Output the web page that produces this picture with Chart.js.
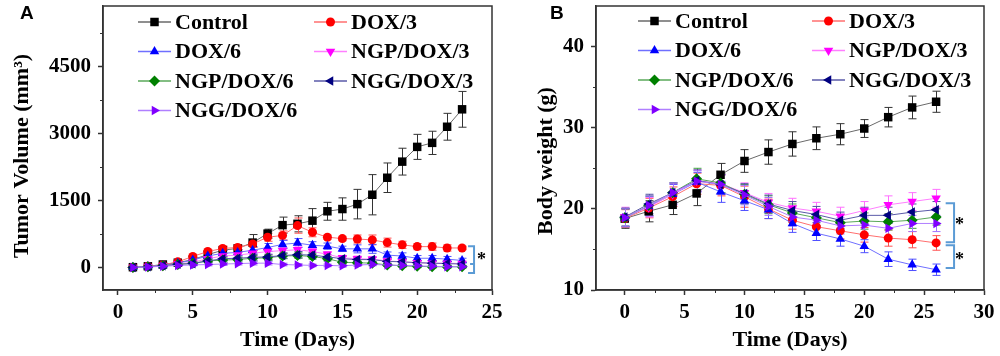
<!DOCTYPE html>
<html>
<head>
<meta charset="utf-8">
<script src="https://cdn.jsdelivr.net/npm/chart.js@4.4.0/dist/chart.umd.min.js"></script>
<style>
  html, body { margin: 0; padding: 0; background: #fff; }
  #wrap { position: relative; width: 1000px; height: 356px; overflow: hidden; }
  #cA { position: absolute; left: 0; top: 0; }
  #cB { position: absolute; left: 500px; top: 0; }
</style>
</head>
<body>
<div id="wrap">
  <canvas id="cA" width="520" height="356"></canvas>
  <canvas id="cB" width="500" height="356"></canvas>
</div>
<script>
const SERIF = '"Liberation Serif", "Times New Roman", serif';

const seriesNames = ['Control', 'DOX/3', 'DOX/6', 'NGP/DOX/3', 'NGP/DOX/6', 'NGG/DOX/3', 'NGG/DOX/6'];
const seriesColors = ['#000000', '#ff0000', '#0000ff', '#ff00ff', '#008000', '#000080', '#8000ff'];
const lineColors = ['#6a6a6a', '#ff6f6f', '#6f6fff', '#ff7fff', '#5aa85a', '#5a5aa8', '#b07fff'];
const errColors = ['#333333', '#ff5050', '#5050ff', '#ff70ff', '#40a040', '#5050a0', '#a070ff'];
const pointStyles = ['rect', 'circle', 'triangle', 'triangle', 'rectRot', 'triangle', 'triangle'];
const pointRotations = [0, 0, 0, 180, 0, 270, 90];
const pointSizes = [6, 4.5, 5.5, 5.5, 5.5, 5.5, 5.5];

// panel A: tumor volume (mm3), days 1..23
const daysA = [1, 2, 3, 4, 5, 6, 7, 8, 9, 10, 11, 12, 13, 14, 15, 16, 17, 18, 19, 20, 21, 22, 23];
const volControl = [10, 30, 70, 110, 180, 290, 390, 430, 560, 760, 950, 980, 1050, 1260, 1310, 1420, 1630, 2010, 2370, 2700, 2790, 3150, 3540];
const volDox3 = [10, 30, 60, 130, 250, 360, 430, 450, 530, 680, 720, 940, 790, 680, 650, 640, 620, 560, 510, 470, 470, 440, 440];
const volDox6 = [10, 25, 50, 100, 170, 260, 320, 340, 390, 450, 520, 550, 500, 480, 420, 420, 420, 280, 260, 210, 210, 190, 160];
const volNgp3 = [5, 20, 45, 80, 120, 200, 260, 280, 320, 360, 380, 400, 360, 300, 220, 200, 190, 150, 130, 110, 100, 100, 90];
const volNgp6 = [5, 20, 40, 70, 100, 150, 170, 180, 210, 220, 260, 270, 250, 200, 120, 110, 100, 60, 40, 30, 20, 20, 20];
const volNgg3 = [5, 20, 45, 75, 90, 150, 200, 210, 230, 240, 270, 290, 280, 240, 200, 180, 180, 140, 130, 110, 100, 90, 80];
const volNgg6 = [5, 15, 30, 50, 60, 70, 80, 90, 100, 100, 70, 60, 50, 50, 40, 60, 70, 60, 50, 40, 30, 20, 20];

const errControlA = [15, 20, 30, 40, 50, 60, 70, 70, 180, 100, 180, 180, 270, 200, 250, 330, 450, 330, 300, 280, 260, 300, 400];
const errDox3A = [10, 15, 20, 30, 40, 40, 50, 50, 80, 90, 100, 170, 100, 50, 50, 90, 110, 100, 80, 70, 80, 70, 40];
const errDox6A = [10, 15, 20, 30, 40, 50, 60, 60, 80, 90, 90, 100, 80, 70, 60, 90, 100, 70, 70, 60, 60, 60, 50];
const errNgp3A = [10, 15, 20, 25, 40, 50, 60, 60, 70, 70, 70, 80, 70, 60, 50, 60, 60, 50, 50, 40, 40, 40, 40];
const errNgp6A = [10, 15, 20, 25, 30, 40, 50, 50, 60, 60, 60, 60, 60, 50, 40, 40, 40, 30, 30, 30, 30, 30, 30];
const errNgg3A = [10, 15, 20, 25, 30, 40, 50, 50, 60, 60, 60, 70, 60, 50, 50, 50, 50, 40, 40, 40, 40, 40, 40];
const errNgg6A = [10, 15, 15, 20, 20, 30, 30, 30, 40, 40, 30, 30, 30, 30, 30, 30, 30, 30, 30, 30, 20, 20, 20];

const xTicksA = [0, 5, 10, 15, 20, 25];
const xMinorA = [2.5, 7.5, 12.5, 17.5, 22.5];
const yTicksA = [0, 1500, 3000, 4500];
const yMinorA = [750, 2250, 3750, 5250];

// panel B: body weight (g), days 0..26
const daysB = [0, 2, 4, 6, 8, 10, 12, 14, 16, 18, 20, 22, 24, 26];
const bwControl = [18.8, 19.7, 20.5, 21.9, 24.2, 25.9, 27.0, 28.0, 28.7, 29.2, 29.9, 31.3, 32.5, 33.2];
const bwDox3 = [18.8, 20.1, 21.5, 23.1, 22.9, 21.5, 20.0, 18.6, 17.8, 17.3, 16.8, 16.4, 16.2, 15.8];
const bwDox6 = [18.9, 20.3, 21.8, 23.3, 22.1, 21.0, 19.9, 18.2, 17.0, 16.3, 15.4, 13.8, 13.1, 12.5];
const bwNgp3 = [19.0, 20.2, 21.8, 23.5, 23.1, 22.0, 20.8, 20.1, 19.7, 19.1, 19.8, 20.5, 20.9, 21.3];
const bwNgp6 = [18.9, 20.4, 22.0, 23.7, 23.2, 21.8, 20.5, 19.5, 18.9, 18.3, 18.5, 18.4, 18.6, 19.0];
const bwNgg3 = [19.0, 20.6, 22.0, 23.5, 23.0, 21.9, 20.6, 19.8, 19.3, 18.6, 19.2, 19.2, 19.6, 19.9];
const bwNgg6 = [18.9, 20.4, 22.0, 23.4, 23.0, 21.7, 20.3, 19.0, 18.6, 17.9, 18.0, 17.6, 18.2, 18.2];

const errControlB = [1.2, 1.3, 1.2, 1.5, 1.4, 1.4, 1.5, 1.5, 1.4, 1.3, 1.1, 1.2, 1.4, 1.3];
const errDox3B = [1.1, 1.2, 1.2, 1.3, 1.3, 1.3, 1.2, 1.1, 1.0, 1.0, 0.9, 1.0, 1.0, 0.9];
const errDox6B = [1.1, 1.2, 1.2, 1.2, 1.3, 1.2, 1.1, 1.1, 0.9, 0.9, 0.8, 0.9, 0.7, 0.7];
const errNgp3B = [1.2, 1.2, 1.3, 1.3, 1.2, 1.2, 1.1, 1.2, 1.1, 1.1, 1.1, 1.1, 1.1, 1.1];
const errNgp6B = [1.1, 1.2, 1.2, 1.3, 1.2, 1.2, 1.1, 1.1, 1.0, 1.0, 1.0, 1.0, 1.0, 1.0];
const errNgg3B = [1.1, 1.2, 1.2, 1.3, 1.2, 1.2, 1.1, 1.1, 1.0, 1.0, 1.0, 1.0, 1.0, 1.0];
const errNgg6B = [1.1, 1.2, 1.2, 1.3, 1.2, 1.2, 1.1, 1.1, 1.0, 1.0, 1.0, 1.0, 1.0, 1.0];

const xTicksB = [0, 5, 10, 15, 20, 25, 30];
const xMinorB = [2.5, 7.5, 12.5, 17.5, 22.5, 27.5];
const yTicksB = [10, 20, 30, 40];
const yMinorB = [15, 25, 35];

function drawMarker(ctx, style, rot, r, x, y, color) {
  ctx.save();
  ctx.translate(x, y);
  ctx.rotate(rot * Math.PI / 180);
  ctx.fillStyle = color;
  ctx.beginPath();
  if (style === 'rect') {
    const s = r * Math.SQRT1_2;
    ctx.rect(-s, -s, 2 * s, 2 * s);
  } else if (style === 'circle') {
    ctx.arc(0, 0, r, 0, Math.PI * 2);
  } else if (style === 'rectRot') {
    ctx.moveTo(0, -r); ctx.lineTo(r, 0); ctx.lineTo(0, r); ctx.lineTo(-r, 0);
  } else {
    ctx.moveTo(0, -r); ctx.lineTo(0.866 * r, 0.5 * r); ctx.lineTo(-0.866 * r, 0.5 * r);
  }
  ctx.closePath();
  ctx.fill();
  ctx.restore();
}

// error bars, frame, minor ticks, titles, legend and brackets
const decor = {
  id: 'decor',
  beforeDatasetsDraw(chart, args, o) {
    const ctx = chart.ctx, xs = chart.scales.x, ys = chart.scales.y;
    chart.data.datasets.forEach((ds, i) => {
      const errs = o.errors[i];
      ctx.save();
      ctx.strokeStyle = errColors[i];
      ctx.lineWidth = 1;
      ds.data.forEach((p, j) => {
        const x = Math.round(xs.getPixelForValue(p.x)) + 0.5;
        const y1 = ys.getPixelForValue(p.y + errs[j]);
        const y2 = ys.getPixelForValue(p.y - errs[j]);
        ctx.beginPath();
        ctx.moveTo(x, y1); ctx.lineTo(x, y2);
        ctx.moveTo(x - 4, y1); ctx.lineTo(x + 4, y1);
        ctx.moveTo(x - 4, y2); ctx.lineTo(x + 4, y2);
        ctx.stroke();
      });
      ctx.restore();
    });
  },
  afterDraw(chart, args, o) {
    const ctx = chart.ctx, a = chart.chartArea, xs = chart.scales.x, ys = chart.scales.y;
    ctx.save();
    // frame
    ctx.strokeStyle = '#333';
    ctx.lineWidth = 1.5;
    ctx.strokeRect(a.left, a.top, a.right - a.left, a.bottom - a.top);
    // minor ticks
    ctx.lineWidth = 1;
    ctx.beginPath();
    o.xMinor.forEach(v => {
      const x = Math.round(xs.getPixelForValue(v)) + 0.5;
      ctx.moveTo(x, a.bottom); ctx.lineTo(x, a.bottom + 3);
    });
    o.yMinor.forEach(v => {
      const y = Math.round(ys.getPixelForValue(v)) + 0.5;
      ctx.moveTo(a.left, y); ctx.lineTo(a.left - 3, y);
    });
    ctx.stroke();

    // axis titles
    ctx.fillStyle = '#000';
    ctx.font = 'bold 22px ' + SERIF;
    ctx.textAlign = 'center';
    ctx.textBaseline = 'middle';
    ctx.fillText(o.xTitle, (a.left + a.right) / 2, 340);
    ctx.save();
    ctx.translate(o.yTitleX, o.yTitleY);
    ctx.rotate(-Math.PI / 2);
    ctx.fillText(o.yTitle, 0, 0);
    ctx.restore();

    // panel letter
    ctx.font = 'bold 19px "Liberation Sans", Arial, sans-serif';
    ctx.textAlign = 'left';
    ctx.fillText(o.letter, o.letterX, 14);

    // legend
    ctx.font = 'bold 22px ' + SERIF;
    seriesNames.forEach((name, i) => {
      const col = i % 2, row = Math.floor(i / 2);
      const x0 = o.legendCols[col], y = o.legendTop + row * 29.5;
      ctx.strokeStyle = lineColors[i];
      ctx.lineWidth = 1.5;
      ctx.beginPath();
      ctx.moveTo(x0, y); ctx.lineTo(x0 + 33, y);
      ctx.stroke();
      drawMarker(ctx, pointStyles[i], pointRotations[i], pointSizes[i], x0 + 16.5, y, seriesColors[i]);
      ctx.fillStyle = '#000';
      ctx.fillText(name, x0 + 37, y + 1);
    });

    // significance brackets
    ctx.strokeStyle = '#5b9bd5';
    ctx.lineWidth = 2;
    o.brackets.forEach(b => {
      const xl = xs.getPixelForValue(b.x0), xr = xs.getPixelForValue(b.x1);
      const yt = ys.getPixelForValue(b.y0), yb = ys.getPixelForValue(b.y1);
      ctx.beginPath();
      ctx.moveTo(xl, yt); ctx.lineTo(xr, yt); ctx.lineTo(xr, yb); ctx.lineTo(xl, yb);
      if (b.nub !== undefined) {
        const yn = ys.getPixelForValue(b.nub);
        ctx.moveTo(xr, yn); ctx.lineTo(xl + 2, yn);
      }
      ctx.stroke();
      ctx.fillStyle = '#000';
      ctx.font = 'bold 18px ' + SERIF;
      ctx.textAlign = 'center';
      ctx.fillText('*', xs.getPixelForValue(b.sx), ys.getPixelForValue(b.sy) + 3);
    });
    ctx.restore();
  }
};

function makeDatasets(days, values, errs) {
  return values.map((vals, i) => ({
    label: seriesNames[i],
    data: days.map((d, j) => ({ x: d, y: vals[j] })),
    borderColor: lineColors[i],
    borderWidth: 1,
    backgroundColor: seriesColors[i],
    pointBackgroundColor: seriesColors[i],
    pointBorderColor: seriesColors[i],
    pointBorderWidth: 0,
    pointStyle: pointStyles[i],
    rotation: pointRotations[i],
    pointRadius: pointSizes[i],
    tension: 0,
    order: values.length - 1 - i
  }));
}

function axis(min, max, ticks, isX, size) {
  return {
    type: 'linear',
    min: min,
    max: max,
    afterBuildTicks: s => { s.ticks = ticks.map(v => ({ value: v })); },
    afterFit: s => {
      if (isX) { s.height = size; s.paddingLeft = 0; s.paddingRight = 0; }
      else { s.width = size; s.paddingTop = 0; s.paddingBottom = 0; }
    },
    ticks: {
      color: '#000',
      padding: isX ? 5 : 7,
      font: { family: SERIF, size: 21, weight: 'bold' },
      callback: v => String(v)
    },
    grid: { drawOnChartArea: false, drawTicks: true, tickLength: 5, tickColor: '#333', tickWidth: 1.5 },
    border: { display: true, color: '#333', width: 1.5 }
  };
}

Chart.defaults.animation = false;

new Chart(document.getElementById('cA'), {
  type: 'line',
  data: {
    datasets: makeDatasets(daysA,
      [volControl, volDox3, volDox6, volNgp3, volNgp6, volNgg3, volNgg6],
      [errControlA, errDox3A, errDox6A, errNgp3A, errNgp6A, errNgg3A, errNgg6A])
  },
  options: {
    responsive: false,
    layout: { padding: { top: 4, right: 28, left: 0, bottom: 0 } },
    scales: {
      x: axis(-1, 25, xTicksA, true, 66),
      y: axis(-500, 5850, yTicksA, false, 103)
    },
    plugins: {
      legend: { display: false },
      tooltip: { enabled: false },
      decor: {
        errors: [errControlA, errDox3A, errDox6A, errNgp3A, errNgp6A, errNgg3A, errNgg6A],
        xMinor: xMinorA, yMinor: yMinorA,
        xTitle: 'Time (Days)', yTitle: 'Tumor Volume (mm³)', yTitleX: 22, yTitleY: 156,
        letter: 'A', letterX: 20,
        legendCols: [138, 314], legendTop: 22,
        brackets: [{ x0: 23.4, x1: 23.8, y0: 480, y1: -120, nub: 80, sx: 24.3, sy: 230 }]
      }
    }
  },
  plugins: [decor]
});

new Chart(document.getElementById('cB'), {
  type: 'line',
  data: {
    datasets: makeDatasets(daysB,
      [bwControl, bwDox3, bwDox6, bwNgp3, bwNgp6, bwNgg3, bwNgg6],
      [errControlB, errDox3B, errDox6B, errNgp3B, errNgp6B, errNgg3B, errNgg6B])
  },
  options: {
    responsive: false,
    layout: { padding: { top: 4, right: 16, left: 0, bottom: 0 } },
    scales: {
      x: axis(-2.4, 30, xTicksB, true, 66),
      y: axis(10, 45, yTicksB, false, 96)
    },
    plugins: {
      legend: { display: false },
      tooltip: { enabled: false },
      decor: {
        errors: [errControlB, errDox3B, errDox6B, errNgp3B, errNgp6B, errNgg3B, errNgg6B],
        xMinor: xMinorB, yMinor: yMinorB,
        xTitle: 'Time (Days)', yTitle: 'Body weight (g)', yTitleX: 46, yTitleY: 161,
        letter: 'B', letterX: 50,
        legendCols: [138, 312], legendTop: 21,
        brackets: [
          { x0: 26.8, x1: 27.5, y0: 20.7, y1: 15.9, sx: 27.95, sy: 18.3 },
          { x0: 26.8, x1: 27.5, y0: 15.5, y1: 12.7, sx: 27.95, sy: 14.05 }
        ]
      }
    }
  },
  plugins: [decor]
});
</script>
</body>
</html>
